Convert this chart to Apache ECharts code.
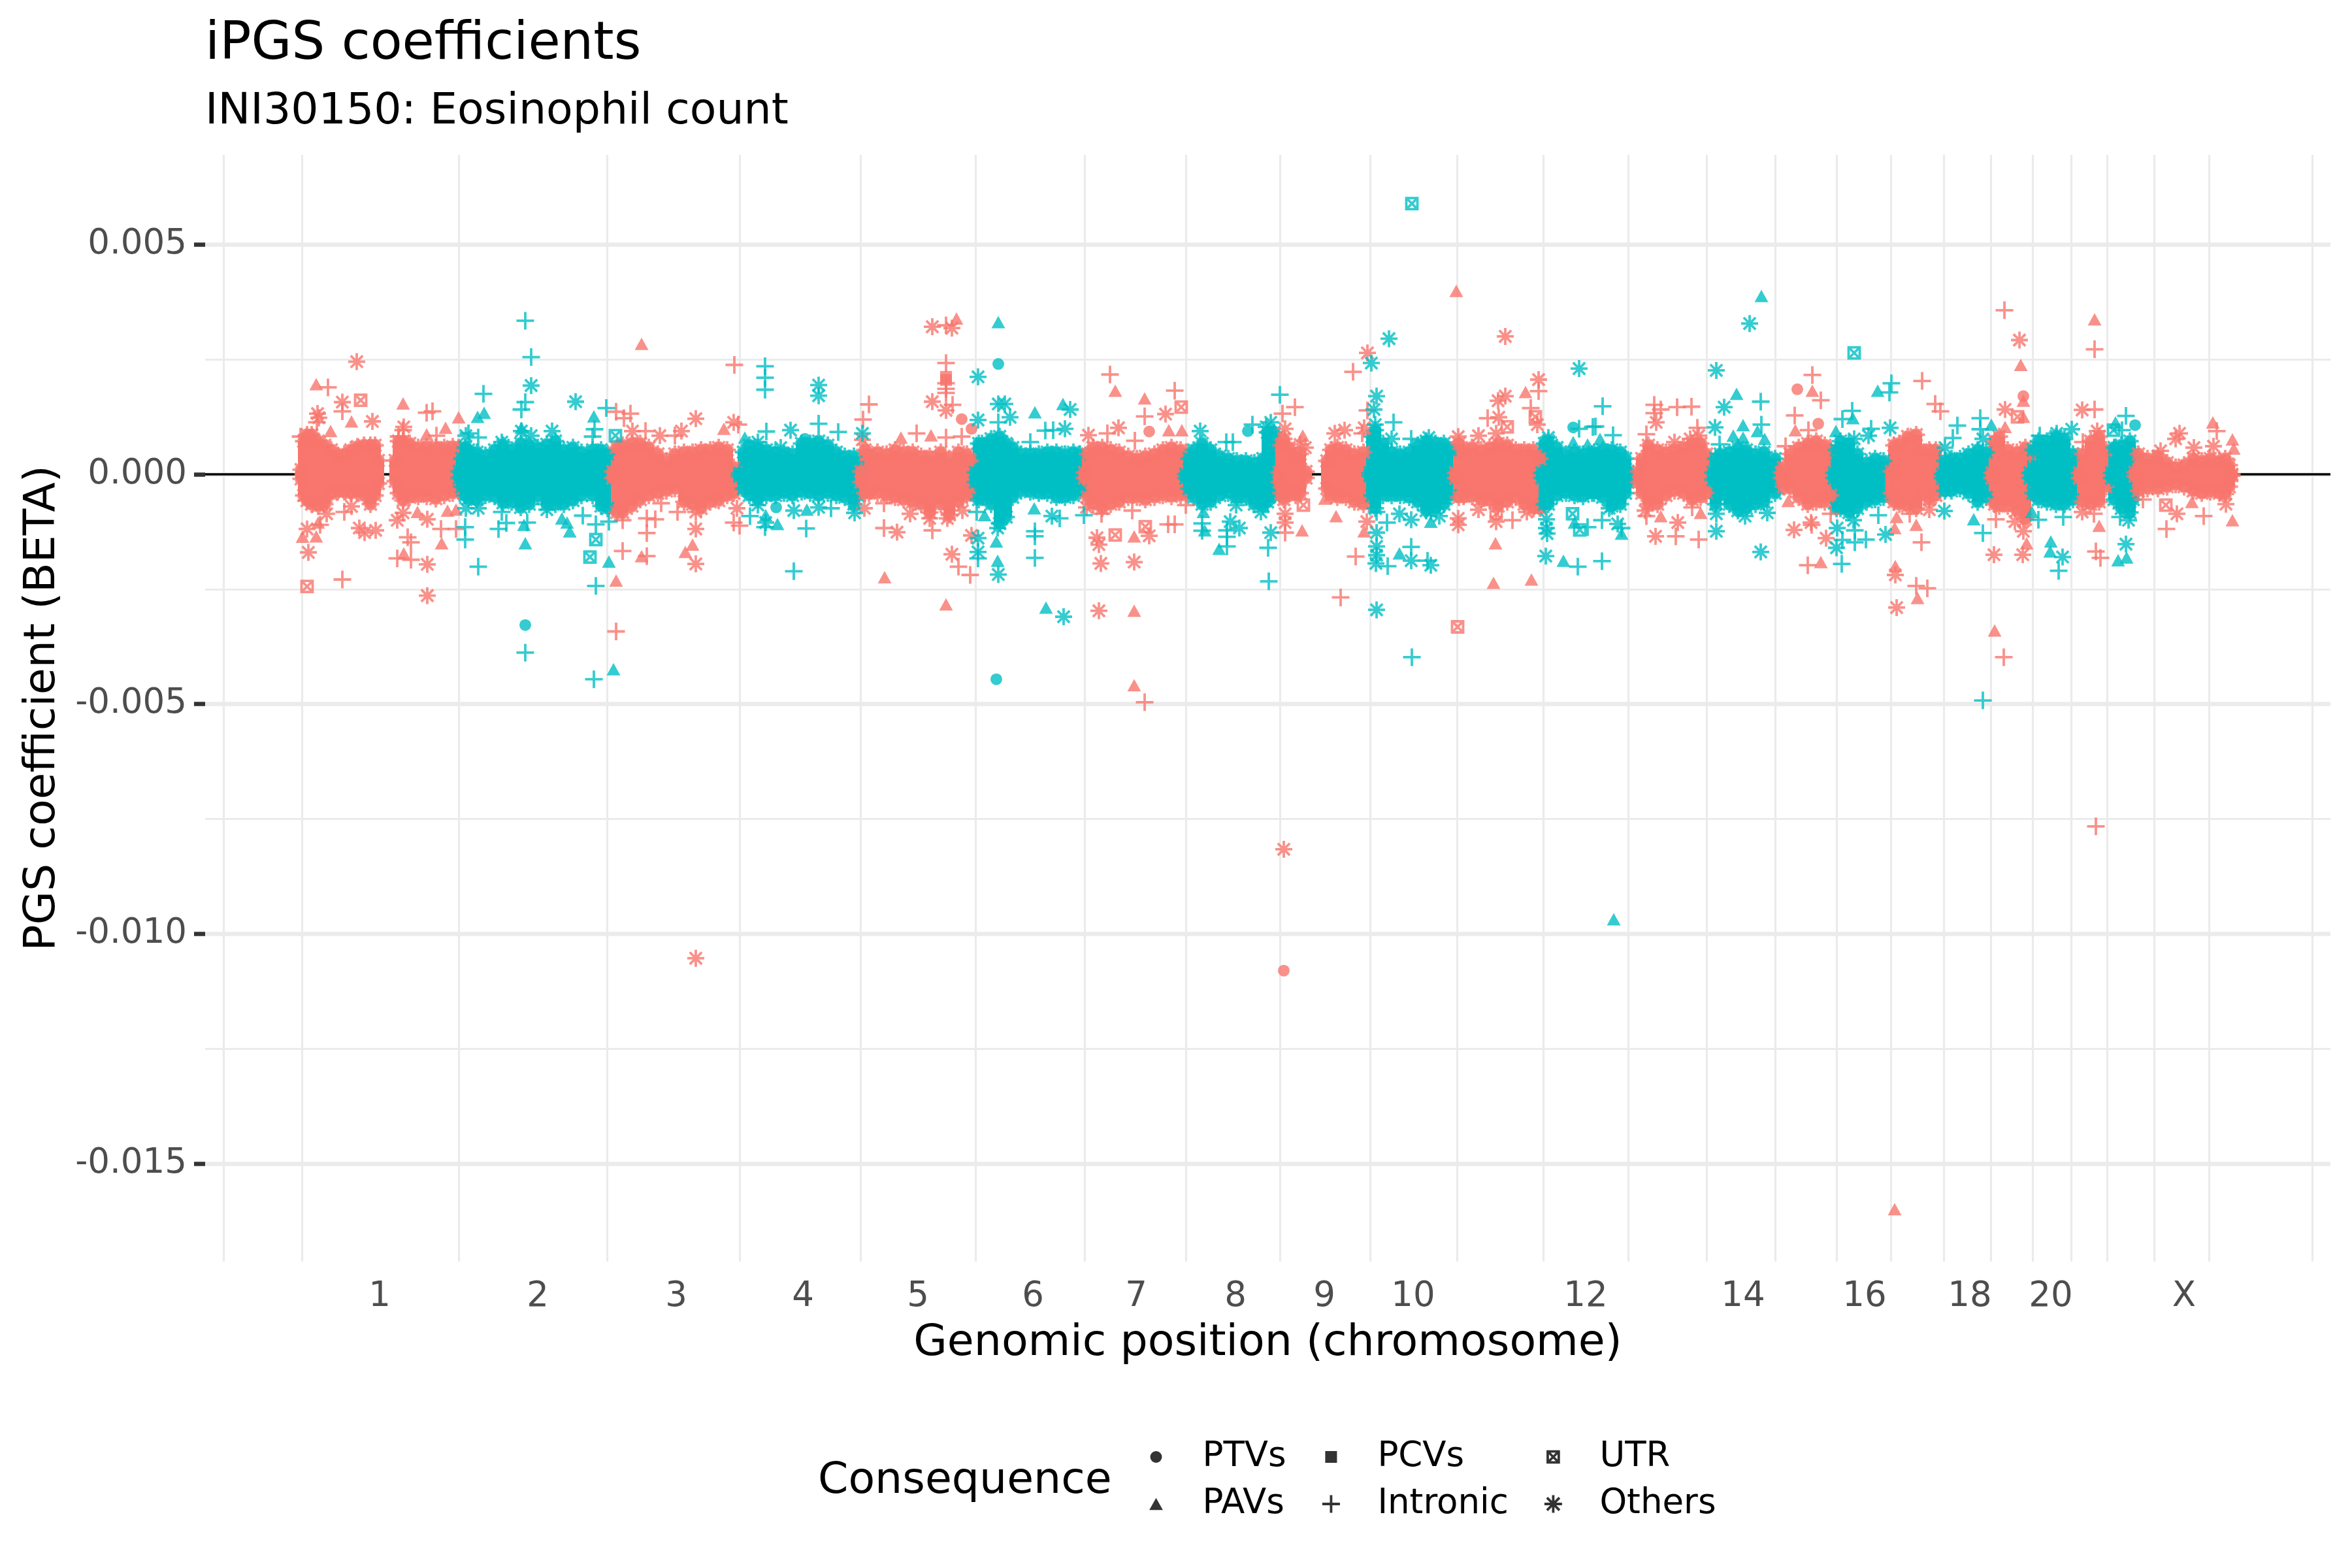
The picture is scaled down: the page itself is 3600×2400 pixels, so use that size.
<!DOCTYPE html>
<html><head><meta charset="utf-8">
<script src="https://cdn.jsdelivr.net/npm/echarts@6/dist/echarts.min.js"></script>
<style>html,body{margin:0;padding:0;background:#fff}#c{width:3600px;height:2400px}</style>
</head><body><div id="c"></div>
<script>
// x = cumulative genomic position (about 1 Mb per unit); y values below = BETA x 1e5
const chromLabels = ['1','2','3','4','5','6','7','8','9','10','12','14','16','18','20','X'];
const chromLabelPositions = [131,373,585,779,955,1131,1289,1441,1577,1713,1977,2218,2404,2565,2689,2893];
const gridXPositions = [-108,12,252,479,682,867,1043,1210,1365,1509,1647,1780,1912,2042,2162,2267,2361,2444,2525,2597,2661,2720,2775,2847,2931,3089];
const yMajorTicks = [-0.015,-0.01,-0.005,0,0.005];
const yMinorTicks = [-0.0125,-0.0075,-0.0025,0.0025];

// Dense band per chromosome: [position, upper edge, lower edge]
const chr1 = [[11,10,-10],[15,72,-46],[20,86,-57],[27,86,-65],[37,72,-69],[47,63,-65],[57,53,-43],[67,41,-38],[77,44,-38],[87,53,-41],[97,60,-38],[107,63,-46],[117,63,-65],[124,63,-46],[129,30,-20],[155,30,-15],[160,72,-41],[167,72,-57],[177,67,-50],[190,58,-48],[203,60,-48],[217,58,-53],[230,58,-46],[243,60,-41],[252,58,-36]];
const chr2 = [[253,6,-8],[257,34,-27],[262,58,-46],[267,53,-53],[280,48,-55],[293,41,-46],[307,53,-48],[320,63,-62],[333,53,-60],[347,67,-72],[360,63,-65],[373,58,-48],[387,65,-65],[400,72,-65],[413,53,-65],[427,58,-57],[440,48,-46],[457,53,-46],[470,53,-69],[480,44,-74]];
const chr3 = [[488,6,-8],[494,58,-83],[503,63,-83],[517,67,-69],[530,67,-55],[543,58,-46],[557,44,-41],[570,29,-36],[583,44,-31],[597,48,-60],[610,48,-65],[623,53,-74],[637,53,-60],[650,58,-57],[663,53,-46],[673,15,-41]];
const chr4 = [[682,2,-4],[688,48,-31],[697,63,-46],[710,58,-55],[723,53,-46],[737,48,-46],[750,44,-41],[763,44,-46],[777,67,-38],[790,67,-41],[803,72,-46],[817,63,-41],[830,48,-46],[843,39,-50],[857,39,-65],[863,15,-46]];
const chr5 = [[868,6,-17],[874,53,-41],[880,44,-41],[893,48,-41],[907,44,-46],[920,53,-50],[933,48,-55],[947,48,-60],[960,39,-65],[973,39,-83],[990,48,-65],[1003,34,-88],[1017,48,-60],[1030,44,-46],[1035,29,-41]];
const chr6 = [[1043,4,-17],[1048,67,-55],[1053,67,-50],[1067,77,-65],[1080,82,-107],[1090,67,-93],[1100,58,-50],[1113,44,-36],[1127,44,-38],[1140,44,-41],[1153,48,-41],[1167,48,-50],[1180,44,-50],[1193,48,-46],[1203,44,-36]];
const chr7 = [[1210,4,-8],[1215,44,-50],[1223,58,-65],[1237,58,-74],[1250,53,-65],[1263,48,-60],[1277,39,-50],[1290,34,-50],[1303,39,-55],[1317,44,-50],[1330,53,-46],[1343,58,-48],[1357,53,-46],[1367,44,-41]];
const chr8 = [[1365,0,-8],[1370,34,-31],[1377,53,-50],[1390,67,-65],[1403,53,-60],[1417,39,-46],[1430,34,-41],[1443,29,-50],[1457,29,-50],[1470,25,-65],[1483,34,-69],[1490,91,-60],[1500,91,-46]];
const chr9 = [[1508,4,-17],[1511,63,-41],[1515,77,-55],[1523,58,-41],[1533,39,-46],[1540,44,-41],[1549,6,-8],[1581,29,-31],[1587,53,-46],[1597,58,-50],[1610,53,-50],[1623,44,-60],[1637,48,-65]];
const chr10 = [[1647,3,-3],[1650,82,-46],[1655,96,-74],[1667,67,-46],[1680,48,-46],[1693,44,-46],[1707,48,-50],[1720,63,-60],[1733,72,-79],[1747,67,-74],[1760,67,-65],[1770,53,-46]];
const chr11 = [[1778,3,-8],[1783,67,-50],[1790,53,-48],[1803,58,-48],[1817,53,-55],[1830,58,-57],[1843,67,-69],[1857,63,-60],[1870,53,-50],[1883,53,-65],[1897,53,-74],[1907,34,-74]];
const chr12 = [[1910,3,-8],[1914,67,-65],[1920,72,-65],[1933,58,-46],[1947,44,-41],[1960,48,-46],[1973,44,-48],[1987,44,-41],[1990,48,-41],[2003,53,-50],[2017,53,-69],[2030,48,-65],[2038,34,-41],[2042,6,-17]];
const chr13 = [[2058,6,-17],[2063,34,-41],[2073,63,-65],[2087,53,-65],[2100,48,-46],[2113,53,-36],[2127,58,-41],[2140,67,-55],[2153,67,-50],[2162,44,-41]];
const chr14 = [[2172,4,-12],[2176,34,-65],[2183,44,-46],[2197,48,-65],[2210,58,-79],[2223,53,-74],[2237,44,-65],[2250,48,-60],[2267,34,-41]];
const chr15 = [[2277,4,-8],[2280,15,-27],[2290,44,-31],[2303,58,-50],[2317,67,-65],[2330,72,-60],[2343,63,-60],[2352,53,-46]];
const chr16 = [[2357,3,-8],[2361,53,-74],[2367,72,-74],[2380,67,-83],[2393,44,-74],[2407,25,-60],[2420,34,-55],[2433,29,-50]];
const chr17 = [[2445,6,-41],[2449,63,-60],[2457,67,-65],[2470,82,-69],[2483,86,-74],[2490,53,-46],[2503,53,-55],[2513,53,-46]];
const chr18 = [[2523,0,-8],[2527,29,-36],[2537,34,-36],[2550,34,-31],[2563,44,-41],[2577,53,-60],[2590,48,-50]];
const chr19 = [[2599,3,-8],[2603,72,-65],[2610,82,-69],[2623,53,-69],[2637,48,-79],[2650,58,-98],[2657,44,-46]];
const chr20 = [[2657,3,-8],[2662,53,-41],[2670,72,-55],[2683,72,-60],[2697,82,-65],[2710,77,-65],[2723,44,-55]];
const chr21 = [[2733,3,-8],[2738,44,-60],[2750,72,-65],[2763,82,-60],[2773,53,-27]];
const chr22 = [[2782,3,-8],[2786,58,-55],[2797,63,-74],[2810,72,-83],[2815,44,-55]];
const chrX = [[2818,4,-4],[2823,44,-36],[2837,34,-31],[2853,39,-31],[2867,25,-27],[2880,15,-22],[2893,20,-27],[2907,34,-36],[2920,29,-41],[2933,34,-38],[2947,29,-41],[2956,34,-43],[2962,20,-27],[2966,0,-3]];

// Individually readable points: [position, BETA x 1e5]
const salmonOthers = [[96,245],[74,157],[120,115],[36,132],[38,123],[168,103],[20,-119],[50,-86],[22,-170],[125,-122],[100,-117],[88,-70],[167,-84],[158,-100],[204,-98],[204,-196],[204,-264],[108,-127],[977,321],[977,158],[870,75],[615,121],[673,113],[560,84],[593,94],[518,94],[615,-195],[615,-119],[615,-82],[678,-74],[873,-74],[923,-126],[943,-86],[973,-96],[1007,318],[998,139],[1216,85],[1262,101],[1334,131],[1000,-96],[1023,-79],[1037,-133],[1007,-174],[1232,-297],[1229,-138],[1232,-153],[1309,-134],[1235,-194],[1286,-191],[1213,-72],[1517,99],[1548,58],[1540,65],[1593,89],[1608,96],[1638,101],[1643,264],[1517,-105],[1517,-86],[1642,-103],[1854,300],[1905,206],[1854,170],[1843,160],[1844,124],[1903,108],[1782,82],[1813,84],[1840,89],[1782,-110],[1782,-96],[1813,-77],[1840,-103],[1887,-82],[2085,113],[2113,70],[2150,84],[2137,77],[2068,-79],[2118,-105],[2084,-135],[2296,-121],[2322,-105],[2345,-139],[2451,-219],[2453,-290],[2641,292],[2619,141],[2737,140],[2760,94],[2503,-77],[2634,-103],[2647,-124],[2602,-175],[2646,-175],[2737,-82],[2886,89],[2880,77],[2908,58],[2938,61],[2857,51],[2882,-86],[2957,-65],[615,-1053],[1515,-816]];
const salmonPavs = [[34,196],[56,94],[88,115],[167,154],[232,101],[203,87],[252,124],[13,-136],[34,-135],[189,-82],[235,-79],[248,-77],[226,-150],[168,-172],[37,-105],[532,284],[975,85],[929,80],[658,99],[532,-178],[610,-153],[599,-169],[493,-231],[904,-224],[1014,339],[1257,182],[1302,165],[1339,96],[1359,96],[998,-283],[1286,-297],[1286,-135],[1544,84],[1543,-122],[1595,-91],[1578,-53],[1638,-124],[1779,399],[1885,179],[1839,-150],[1836,-236],[1894,-229],[2092,-91],[2153,-84],[2324,182],[2298,96],[2287,-58],[2337,-191],[2450,-117],[2453,-93],[2483,-110],[2451,-200],[2485,-269],[2643,238],[2647,160],[2647,125],[2619,103],[2756,337],[2652,-150],[2603,-340],[2763,-112],[2937,113],[2967,76],[2969,56],[2905,-60],[2967,-100],[1286,-459],[2450,-1599]];
const salmonIntronic = [[52,189],[74,137],[212,137],[203,134],[35,113],[160,82],[167,96],[218,84],[10,82],[77,-82],[225,-119],[248,-119],[174,-137],[179,-148],[158,-183],[179,-186],[74,-229],[40,-110],[674,238],[880,152],[871,119],[953,89],[515,132],[505,122],[493,136],[680,108],[538,94],[583,84],[540,-96],[553,-98],[540,-128],[503,-167],[540,-178],[673,-105],[682,-112],[587,-82],[562,-63],[493,-342],[503,-100],[903,-117],[977,-122],[903,-63],[998,324],[998,242],[998,198],[998,186],[998,177],[1008,151],[1022,82],[998,80],[1249,217],[1302,126],[1348,182],[1245,89],[1287,73],[1017,-201],[1035,-219],[1338,-109],[1348,-109],[1283,-79],[1236,-86],[1365,-67],[1532,146],[1513,132],[1635,89],[1643,139],[1621,223],[1517,-127],[1625,-179],[1602,-268],[1893,144],[1905,181],[1827,122],[1865,-100],[2082,151],[2092,141],[2082,133],[2117,146],[2139,147],[2070,87],[2148,101],[2070,-91],[2115,-135],[2150,-142],[2140,-72],[2324,216],[2337,161],[2297,128],[2318,96],[2283,61],[2323,-110],[2317,-198],[2352,-86],[2492,203],[2491,-148],[2483,-243],[2473,-86],[2618,357],[2512,153],[2520,137],[2756,272],[2756,141],[2738,70],[2500,-248],[2605,-98],[2755,-86],[2758,-168],[2765,-182],[2943,94],[2830,-55],[2866,-119],[2923,-91],[1302,-496],[2758,-766],[2617,-398]];
const salmonPtvs = [[1022,120],[1037,99],[1309,93],[2301,185],[2333,110],[2647,170],[1515,-1080]];
const salmonPcvs = [[998,212],[998,205]];
const salmonUtr = [[102,161],[20,-244],[1358,146],[1257,-132],[1303,-114],[1545,-67],[1781,-332],[1857,103],[1900,125],[1840,-86],[2638,125],[2865,-67]];

const tealOthers = [[363,193],[431,158],[395,94],[348,94],[363,84],[318,70],[263,84],[263,-74],[282,-74],[387,-77],[803,194],[803,171],[760,96],[870,89],[745,58],[710,70],[722,-105],[765,-79],[803,-72],[858,-84],[710,-67],[1047,212],[1078,153],[1088,153],[1096,124],[1047,118],[1188,141],[1180,99],[1047,-139],[1047,-169],[1078,-218],[1160,-91],[1077,-117],[1178,-310],[1387,94],[1488,103],[1433,-103],[1447,-117],[1480,-82],[1442,-67],[1495,-127],[1495,113],[1676,295],[1649,242],[1657,170],[1653,141],[1655,108],[1680,77],[1737,80],[1657,-127],[1657,-157],[1657,-176],[1656,-194],[1692,-86],[1710,-99],[1710,-188],[1740,-198],[1657,-295],[1753,-91],[1740,-82],[1967,230],[1917,-98],[1917,-117],[1918,-129],[1916,-178],[1920,80],[2228,328],[2177,226],[2189,146],[2175,102],[2026,-108],[2177,-86],[2177,-124],[2221,-91],[2255,-84],[2245,-169],[2013,-74],[2388,77],[2410,84],[2443,101],[2362,-117],[2361,-160],[2436,-131],[2387,-100],[2527,58],[2585,77],[2721,98],[2698,89],[2526,-80],[2707,-180],[2808,-100],[2804,-152]];
const tealIntronic = [[354,334],[363,255],[290,175],[354,157],[348,141],[478,144],[267,89],[282,80],[460,98],[457,82],[262,-115],[262,-142],[282,-201],[313,-119],[325,-106],[357,-105],[462,-109],[442,-90],[462,-243],[482,-103],[318,-82],[721,235],[721,210],[721,184],[803,110],[833,92],[723,93],[698,-91],[721,-115],[822,-74],[784,-118],[765,-211],[1078,113],[1150,95],[1162,96],[1127,70],[1047,-183],[1134,-124],[1134,-135],[1134,-182],[1172,-96],[1209,-89],[1045,-82],[1467,108],[1437,70],[1427,70],[1390,-107],[1390,-123],[1428,-122],[1428,-136],[1428,-157],[1491,-160],[1492,-233],[1509,173],[1683,113],[1710,77],[1674,-200],[1673,-105],[1710,-158],[1735,-188],[1657,-82],[1967,99],[1988,103],[1980,-115],[1965,-201],[2003,148],[1992,104],[2019,85],[2245,158],[2246,108],[2182,65],[2002,-100],[2032,-117],[2002,-189],[2385,138],[2370,120],[2414,99],[2445,198],[2442,178],[2370,-143],[2389,-122],[2389,-148],[2406,-142],[2425,-89],[2369,-195],[2546,106],[2539,79],[2581,122],[2581,98],[2672,84],[2804,127],[2798,96],[2585,-128],[2670,-99],[2701,-210],[2708,-93],[2795,-93],[354,-388],[459,-446],[1711,-398],[2585,-492]];
const tealPavs = [[281,125],[291,134],[459,126],[348,101],[352,-110],[354,-150],[422,-124],[418,-105],[410,-96],[482,-190],[690,80],[722,-89],[740,-108],[785,-77],[1078,331],[1134,135],[1177,153],[1075,-146],[1077,-188],[1133,-74],[1057,-89],[1151,-290],[1392,-82],[1394,-122],[1416,-162],[1692,-172],[1740,-103],[1958,70],[1980,65],[1960,-105],[1943,-188],[2246,388],[2208,175],[2218,107],[2203,84],[2218,80],[2240,94],[2251,77],[1999,77],[2032,-129],[2386,122],[2360,94],[2424,182],[2598,108],[2787,65],[2788,113],[2571,-98],[2660,-82],[2689,-146],[2688,-168],[2805,-181],[2792,-187],[489,-424],[2020,-968]];
const tealPtvs = [[354,-328],[782,77],[738,-72],[1078,240],[1460,94],[1958,102],[2818,107],[1075,-446]];
const tealUtr = [[462,-142],[453,-180],[492,84],[1711,589],[1957,-86],[1968,-121],[2785,96],[2388,264]];

const SALMON = '#F8766D', TEAL = '#00BFC4';
const FONT = '"DejaVu Sans"';
const X_MIN = -136, X_MAX = 3117, Y_MIN = -0.01713, Y_MAX = 0.00695;
const SHAPE = {
  PTVs: {symbol:'path://M5 0A5 5 0 1 1 5 10A5 5 0 1 1 5 0Z', size:[18,18], filled:true, key:'path://M-2.5 -2.5M5 0A5 5 0 1 1 5 10A5 5 0 1 1 5 0ZM12.5 12.5'},
  PAVs: {symbol:'path://M5 0L10 9H0Z', size:[21,19], filled:true, key:'path://M-1.5 -2M5 0L10 9H0ZM11.5 11'},
  PCVs: {symbol:'path://M0 0H10V10H0Z', size:[18,18], filled:true, key:'path://M-2.5 -2.5M0 0H10V10H0ZM12.5 12.5'},
  Intronic: {symbol:'path://M5 0V10M0 5H10', size:[27,27], filled:false, bw:3.8, key:'path://M5 0V10M0 5H10'},
  UTR: {symbol:'path://M0 0H10V10H0ZM1 1L9 9M9 1L1 9', size:[17,17], filled:false, bw:3.8, key:'path://M-3 -3M0 0H10V10H0ZM1 1L9 9M9 1L1 9M13 13'},
  Others: {symbol:'path://M5 0V10M0 5H10M1.46 1.46L8.54 8.54M8.54 1.46L1.46 8.54', size:[26,26], filled:false, bw:3.8, key:'path://M5 0V10M0 5H10M1.46 1.46L8.54 8.54M8.54 1.46L1.46 8.54'}
};
// Edge of the dense cloud: overlapping asterisks read as a solid, jagged rim
const RIM_SYMBOL = 'path://M5 0V10M0 5H10M1.46 1.46L8.54 8.54M8.54 1.46L1.46 8.54M5 2A3 3 0 1 1 5 8A3 3 0 1 1 5 2Z';
const toPts = a => a.map(p => [p[0], p[1]/1e5]);
const markStyle = (s, color) => s.filled ? {color} : {color:'transparent', borderColor:color, borderWidth:s.bw};

const series = [];
series.push({type:'line', name:'zero', data:[[X_MIN,0],[X_MAX,0]], symbol:'none', silent:true, animation:false,
  lineStyle:{color:'#000', width:3.5}, z:2});

const bands = [chr1,chr2,chr3,chr4,chr5,chr6,chr7,chr8,chr9,chr10,chr11,chr12,chr13,chr14,chr15,chr16,chr17,chr18,chr19,chr20,chr21,chr22,chrX];
bands.forEach((band, i) => {
  const color = i % 2 === 0 ? SALMON : TEAL;
  series.push({
    type:'custom', name:'band'+(i+1), silent:true, animation:false, z:3,
    data: band.map(r => [r[0], r[1]/1e5, r[2]/1e5]),
    encode:{x:0, y:[1,2]},
    renderItem:(params, api) => {
      const a = api.coord([api.value(0)-9, api.value(1)]);
      const b = api.coord([api.value(0)+9, api.value(2)]);
      return {type:'rect', shape:{x:a[0], y:a[1], width:b[0]-a[0], height:b[1]-a[1]}, style:{fill:color}};
    }
  });
  const edge = [];
  band.forEach(r => { edge.push([r[0], r[1]/1e5]); edge.push([r[0], r[2]/1e5]); });
  series.push({type:'scatter', name:'edge'+(i+1), silent:true, animation:false, z:3,
    data:edge, symbol:RIM_SYMBOL, symbolSize:[27,27],
    itemStyle:{color, borderColor:color, borderWidth:3.8}});
});

[['salmon',SALMON,{PTVs:salmonPtvs,PAVs:salmonPavs,PCVs:salmonPcvs,Intronic:salmonIntronic,UTR:salmonUtr,Others:salmonOthers}],
 ['teal',TEAL,{PTVs:tealPtvs,PAVs:tealPavs,Intronic:tealIntronic,UTR:tealUtr,Others:tealOthers}]].forEach(([label,color,groups]) => {
  Object.keys(groups).forEach(k => {
    const s = SHAPE[k];
    series.push({type:'scatter', name:label+' '+k, silent:true, animation:false, z:4,
      data:toPts(groups[k]), symbol:s.symbol, symbolSize:s.size, itemStyle:markStyle(s,color)});
  });
});
Object.keys(SHAPE).forEach(k => {
  const s = SHAPE[k];
  series.push({type:'scatter', name:k, data:[], symbol:s.symbol, symbolSize:s.size, itemStyle:markStyle(s,'#000')});
});

const legendBase = {orient:'vertical', itemWidth:132, itemHeight:27, itemGap:12, padding:0, selectedMode:false, symbolKeepAspect:true,
  itemStyle:{borderWidth:3.8},
  textStyle:{fontFamily:FONT, fontSize:53, color:'#000', lineHeight:60}};
const legendItems = names => names.map(n => ({name:n, icon:SHAPE[n].key}));

const chart = echarts.init(document.getElementById('c'), null, {renderer:'canvas'});
chart.setOption({
  backgroundColor:'#fff', animation:false,
  title:[
    {text:'iPGS coefficients', left:314, top:29, padding:0, textStyle:{fontFamily:FONT, fontSize:80, fontWeight:'normal', color:'#000'}},
    {text:'INI30150: Eosinophil count', left:314, top:138, padding:0, textStyle:{fontFamily:FONT, fontSize:66.5, fontWeight:'normal', color:'#000'}},
    {text:'Consequence', left:1252, top:2234, padding:0, textStyle:{fontFamily:FONT, fontSize:66.5, fontWeight:'normal', color:'#000'}}
  ],
  grid:{left:314, top:237, width:3567-314, height:1931-237, containLabel:false, outerBoundsMode:'none'},
  xAxis:{type:'value', min:X_MIN, max:X_MAX,
    name:'Genomic position (chromosome)', nameLocation:'middle', nameGap:92,
    nameTextStyle:{fontFamily:FONT, fontSize:66.5, color:'#000'},
    axisLine:{show:false, onZero:false},
    axisTick:{show:false, customValues:gridXPositions},
    splitLine:{show:true, lineStyle:{color:'#EBEBEB', width:3.2}},
    axisLabel:{customValues:chromLabelPositions, margin:28, fontFamily:FONT, fontSize:53, color:'#4D4D4D',
      formatter:v => chromLabels[chromLabelPositions.indexOf(v)]}
  },
  yAxis:[
    {type:'value', min:Y_MIN, max:Y_MAX,
      name:'PGS coefficient (BETA)', nameLocation:'middle', nameGap:215,
      nameTextStyle:{fontFamily:FONT, fontSize:66.5, color:'#000'},
      axisLine:{show:false, onZero:false},
      axisTick:{show:true, length:17, customValues:yMajorTicks, lineStyle:{color:'#333333', width:6.5}},
      splitLine:{show:true, lineStyle:{color:'#EBEBEB', width:6.5}},
      axisLabel:{customValues:yMajorTicks, margin:28, fontFamily:FONT, fontSize:53, color:'#4D4D4D',
        formatter:v => v.toFixed(3)}
    },
    {type:'value', min:Y_MIN, max:Y_MAX, position:'left',
      axisLine:{show:false, onZero:false},
      axisTick:{show:false, customValues:yMinorTicks},
      axisLabel:{show:false},
      splitLine:{show:true, lineStyle:{color:'#EBEBEB', width:3.2}}
    }
  ],
  legend:[
    Object.assign({}, legendBase, {left:1756, top:2200, data:legendItems(['PTVs','PAVs'])}),
    Object.assign({}, legendBase, {left:2022, top:2200, data:legendItems(['PCVs','Intronic'])}),
    Object.assign({}, legendBase, {left:2362, top:2200, data:legendItems(['UTR','Others'])})
  ],
  series
});
</script></body></html>
